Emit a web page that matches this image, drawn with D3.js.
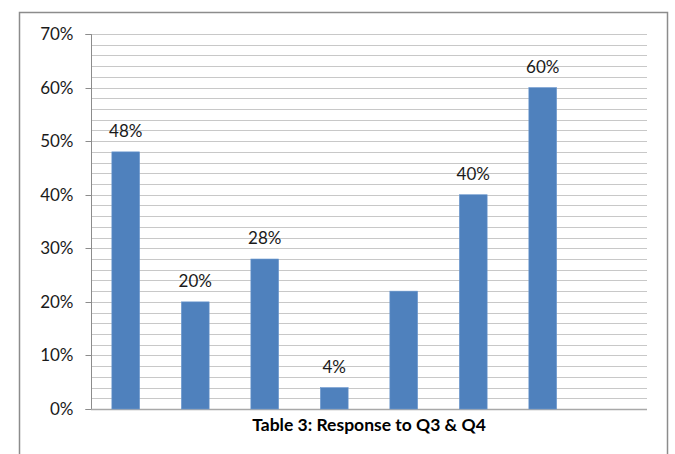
<!DOCTYPE html>
<html>
<head>
<meta charset="utf-8">
<script src="https://cdn.jsdelivr.net/npm/d3@7"></script>
<style>
  html, body { margin: 0; padding: 0; background: #fff; }
  svg { display: block; font-family: Lato, "Open Sans", sans-serif; }
</style>
</head>
<body>
<svg id="chart" width="675" height="454"></svg>
<script>
// Response shares per question (the last slot is left empty)
const categories = ["A", "B", "C", "D", "E", "F", "G", "H"];
const values = [0.48, 0.20, 0.28, 0.04, 0.22, 0.40, 0.60, null];
const labels = ["48%", "20%", "28%", "4%", null, "40%", "60%", null];
const yTicks = [0, 0.1, 0.2, 0.3, 0.4, 0.5, 0.6, 0.7];
const title = "Table 3: Response to Q3 & Q4";

const svg = d3.select("#chart");
const plot = { left: 91, right: 647, top: 34, bottom: 409 };

// Outer chart frame
svg.append("rect")
  .attr("x", 19.5).attr("y", 12.5)
  .attr("width", 648).attr("height", 460)
  .attr("fill", "#fff").attr("stroke", "#8c8c8c").attr("stroke-width", 1.5);

const x = d3.scaleBand().domain(categories).range([plot.left, plot.right]).paddingInner(0.6).paddingOuter(0.3);
const y = d3.scaleLinear().domain([0, 0.7]).range([plot.bottom, plot.top]);

// Minor gridlines every 2%
const grid = d3.range(0, 0.7001, 0.02);
svg.append("g").selectAll("line").data(grid).join("line")
  .attr("x1", plot.left).attr("x2", plot.right)
  .attr("y1", d => Math.round(y(d)) + 0.5).attr("y2", d => Math.round(y(d)) + 0.5)
  .attr("stroke", "#c8c8c8").attr("stroke-width", 1);

// Y axis
const yAxis = d3.axisLeft(y).tickValues(yTicks).tickFormat(d3.format(".0%")).tickSize(6).tickPadding(12);
const ya = svg.append("g").attr("transform", `translate(${plot.left + 0.5},0.5)`).call(yAxis);
ya.select(".domain").attr("stroke", "#8c8c8c").attr("d", `M-6,${Math.round(y(0.7))}H0V${Math.round(y(0))}H-6`);
ya.selectAll(".tick line").attr("stroke", "#8c8c8c");
ya.selectAll(".tick").attr("transform", d => `translate(0,${Math.round(y(d))})`);
ya.selectAll(".tick text").attr("fill", "#1a1a1a").style("font-size", "17px").style("font-family", "Lato, 'Open Sans', sans-serif");

// Baseline
svg.append("line")
  .attr("x1", plot.left).attr("x2", plot.right)
  .attr("y1", Math.round(y(0)) + 0.5).attr("y2", Math.round(y(0)) + 0.5)
  .attr("stroke", "#a8a8a8").attr("stroke-width", 1.5);

// Bars
const data = categories.map((c, i) => ({ c, v: values[i], label: labels[i] }));
svg.append("g").selectAll("rect").data(data.filter(d => d.v != null)).join("rect")
  .attr("x", d => x(d.c)).attr("width", x.bandwidth())
  .attr("y", d => y(d.v)).attr("height", d => y(0) - y(d.v))
  .attr("fill", "#4f81bd").attr("stroke", "#6f9bd0").attr("stroke-width", 0.6);

// Value labels
svg.append("g").selectAll("text").data(data.filter(d => d.label)).join("text")
  .attr("x", d => x(d.c) + x.bandwidth() / 2)
  .attr("y", d => y(d.v) - 15)
  .attr("text-anchor", "middle")
  .attr("fill", "#1a1a1a").style("font-size", "17px")
  .text(d => d.label);

// Title below the axis
svg.append("text")
  .attr("x", (plot.left + plot.right) / 2).attr("y", 431)
  .attr("text-anchor", "middle")
  .attr("fill", "#000").style("font-size", "17.5px").style("font-weight", "bold")
  .text(title);
</script>
</body>
</html>
